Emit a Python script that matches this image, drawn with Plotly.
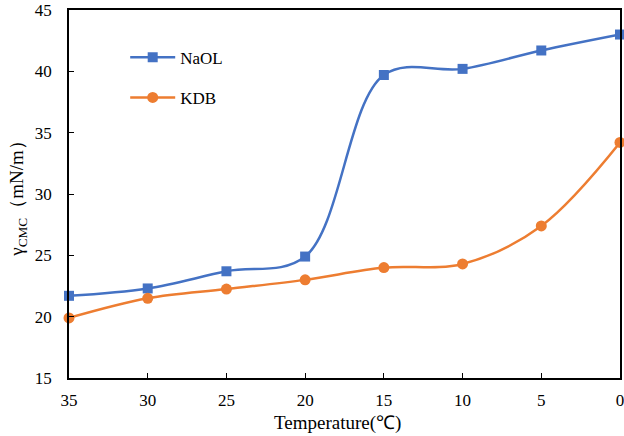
import plotly.graph_objects as go

temps = [35, 30, 25, 20, 15, 10, 5, 0]
naol = [21.7, 22.3, 23.7, 24.9, 39.7, 40.2, 41.7, 43.0]
kdb = [19.9, 21.5, 22.25, 23.0, 24.0, 24.3, 27.4, 34.2]
x_ticks = [35, 30, 25, 20, 15, 10, 5, 0]
y_ticks = [15, 20, 25, 30, 35, 40, 45]

FONT = "Liberation Serif, serif"
tickfont = dict(family=FONT, size=17, color="black")

fig = go.Figure()
fig.add_trace(go.Scatter(
    x=temps, y=naol, name="NaOL", mode="lines+markers",
    line=dict(color="#4472C4", width=2.5, shape="spline", smoothing=1),
    marker=dict(symbol="square", size=10, color="#4472C4"),
    legendgroup="a", cliponaxis=False,
))
fig.add_trace(go.Scatter(
    x=temps, y=kdb, name="KDB", mode="lines+markers",
    line=dict(color="#ED7D31", width=2.5, shape="spline", smoothing=1),
    marker=dict(symbol="circle", size=11, color="#ED7D31"),
    legendgroup="b", cliponaxis=False,
))

fig.update_layout(
    width=624, height=436,
    margin=dict(l=69, r=4, t=10, b=58, autoexpand=False),
    paper_bgcolor="white", plot_bgcolor="white",
    font=dict(family=FONT, size=16, color="black"),
    showlegend=True,
    legend=dict(x=0.102, y=0.919, xanchor="left", yanchor="top",
                font=dict(family=FONT, size=17, color="black"),
                bgcolor="rgba(0,0,0,0)", tracegroupgap=15, itemwidth=45),
    xaxis=dict(
        range=[35, 0], tickvals=x_ticks, ticktext=[str(v) for v in x_ticks],
        showgrid=False, zeroline=False, showline=True, linecolor="black", linewidth=1.5,
        mirror=True, ticks="inside", ticklen=5, tickcolor="black",
        ticklabelstandoff=6, tickfont=tickfont, automargin=False,
        ticklabeloverflow="allow",
    ),
    yaxis=dict(
        range=[15, 45], tickvals=y_ticks,
        showgrid=False, zeroline=False, showline=True, linecolor="black", linewidth=1.5,
        mirror=True, ticks="inside", ticklen=5, tickcolor="black",
        ticklabelstandoff=12, tickfont=tickfont, automargin=False,
        ticklabeloverflow="allow",
    ),
    annotations=[
        dict(text="Temperature(℃)", x=0.487, y=-0.088, xref="paper", yref="paper",
             xanchor="center", yanchor="top", showarrow=False,
             font=dict(family=FONT, size=19, color="black")),
        dict(text="γ<sub>CMC</sub>（mN/m）", x=-0.093, y=0.5, xref="paper", yref="paper",
             xanchor="center", yanchor="middle", textangle=-90, showarrow=False,
             font=dict(family=FONT, size=19, color="black")),
    ],
)

fig.write_html(
    "out.html",
    config={"displayModeBar": False},
    post_script="document.body.style.margin='0';document.body.style.overflow='hidden';",
)
